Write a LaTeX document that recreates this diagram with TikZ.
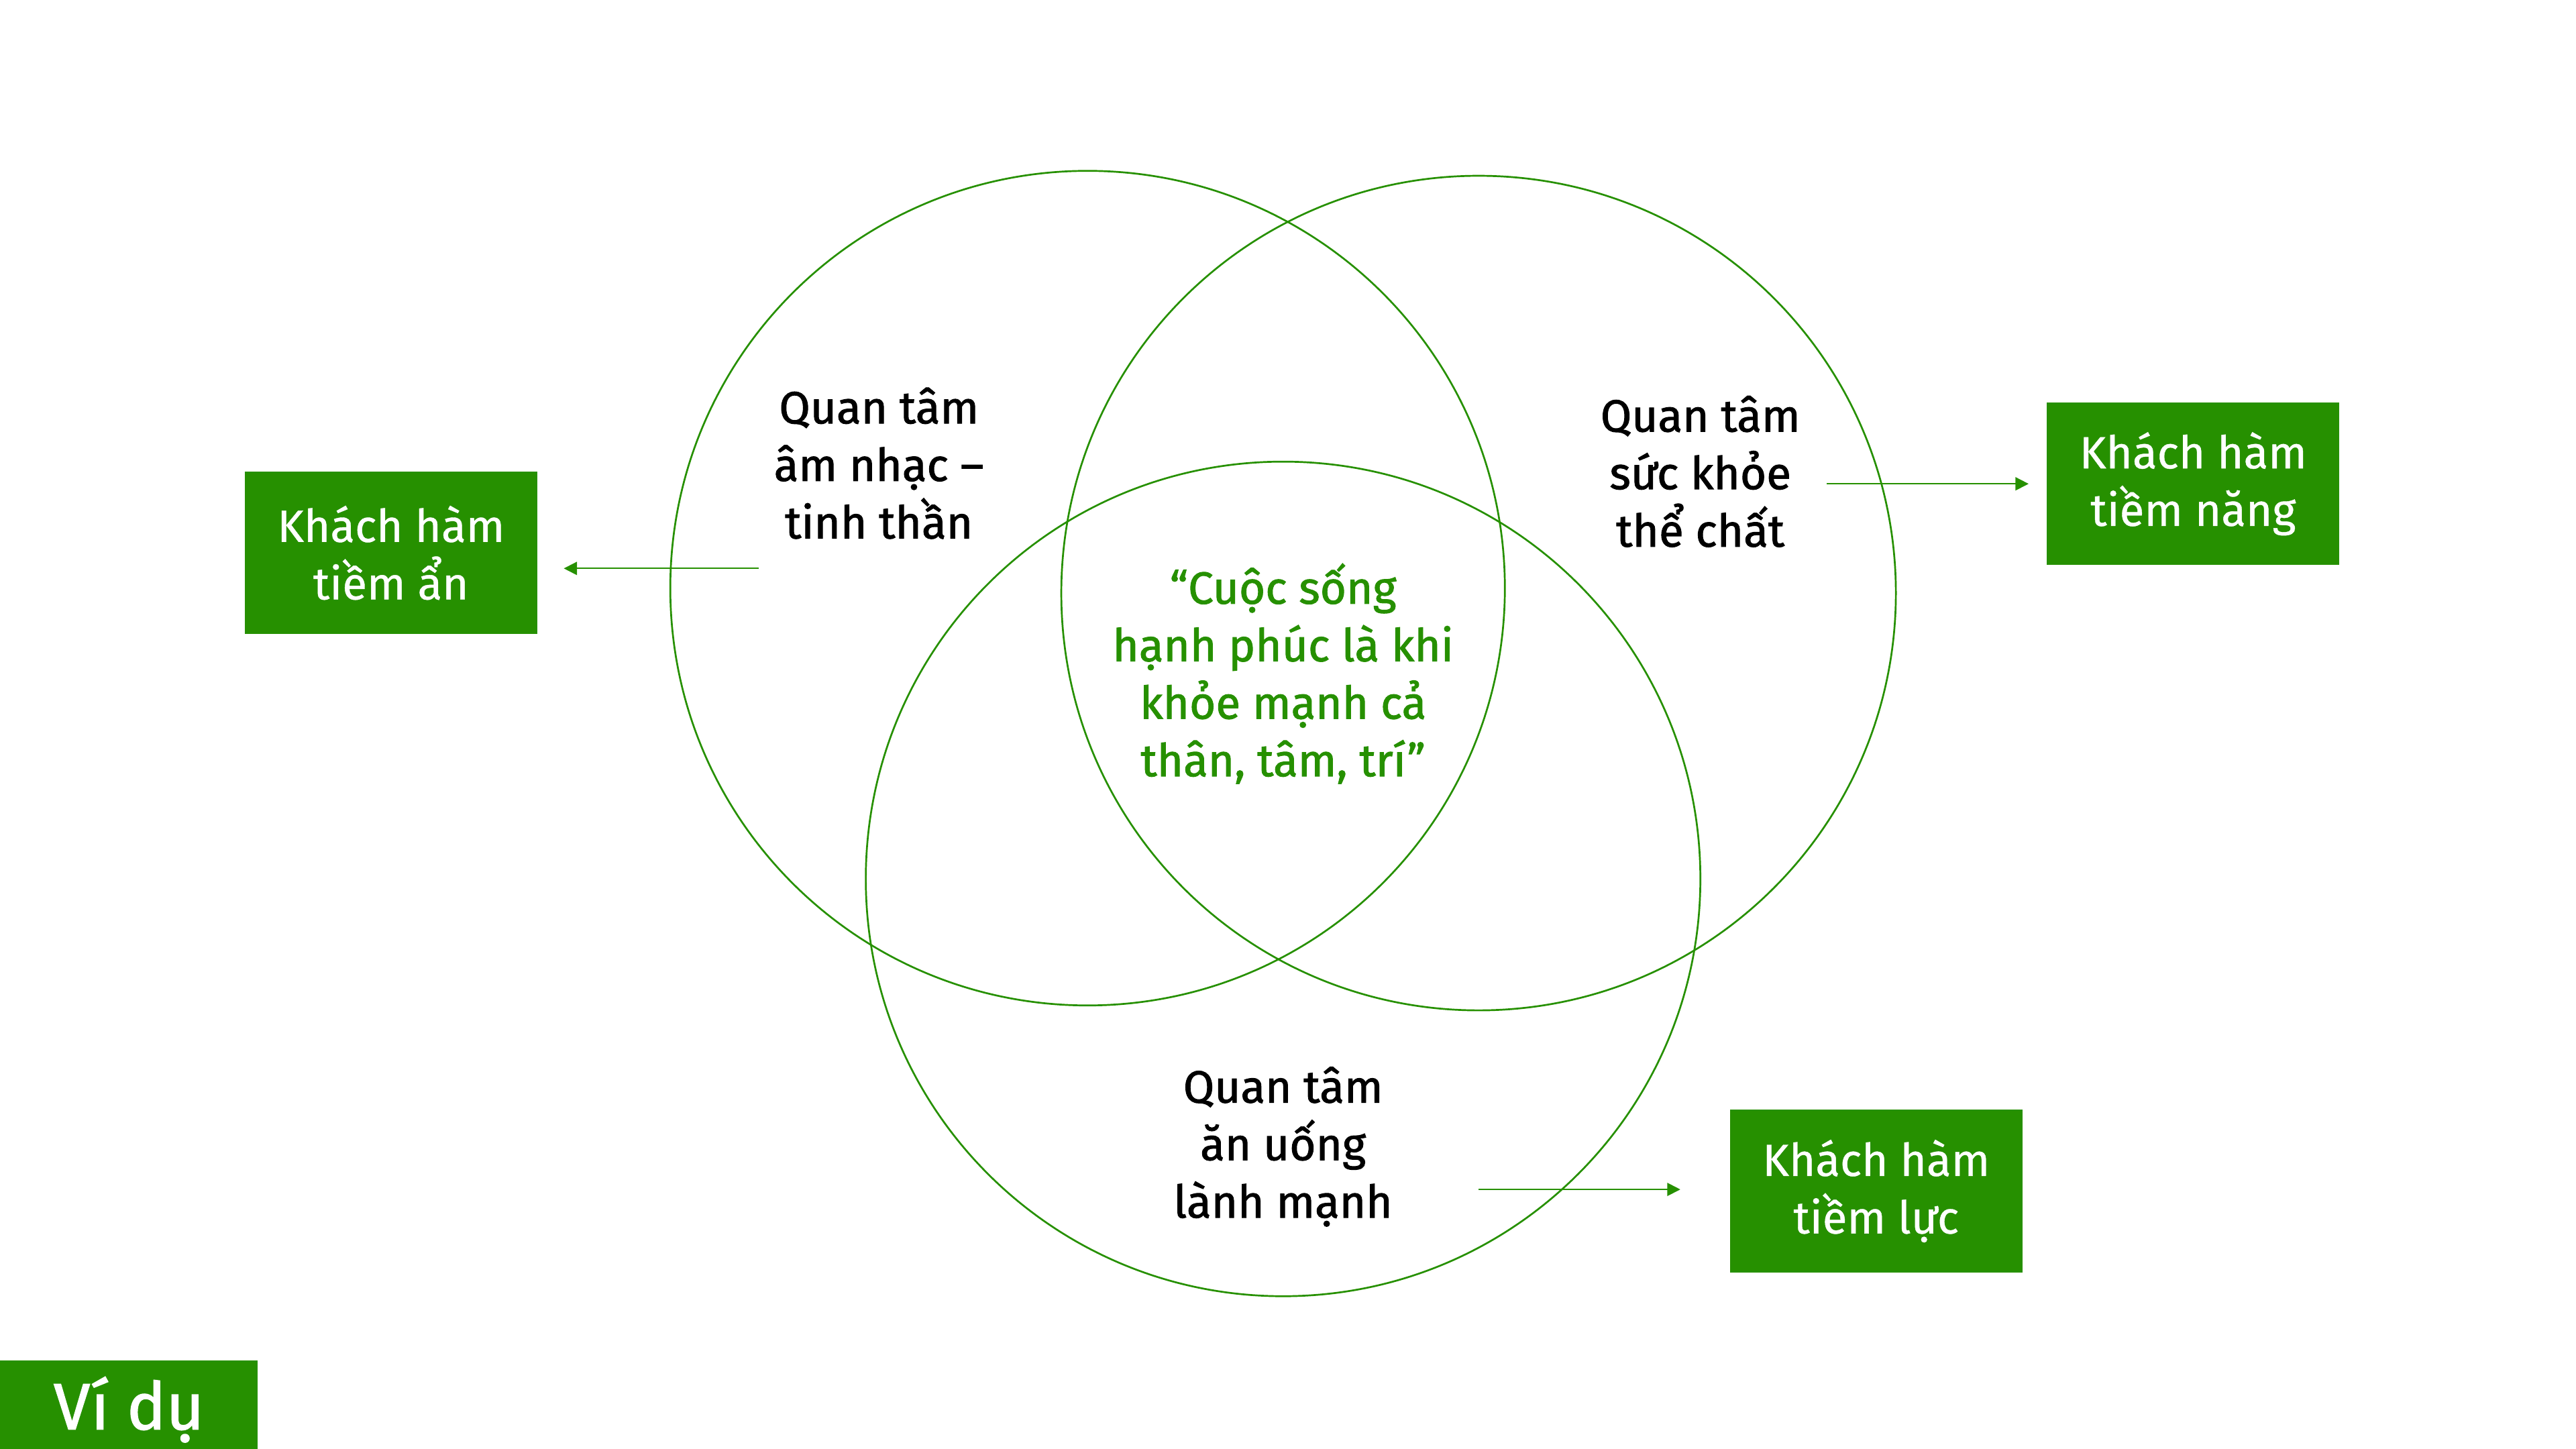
\documentclass[tikz,border=0pt]{standalone}
\usepackage{fontspec}
\setmainfont{Fira Sans}
\newfontfamily\medfont{Fira Sans}[FakeBold=1.4]
\newfontfamily\boxfont{Fira Sans}[FakeBold=0.6]
\usetikzlibrary{arrows.meta}
\definecolor{vgreen}{RGB}{38,144,0}
\begin{document}
\begin{tikzpicture}[x=1pt,y=-1pt,
  ring/.style={circle,draw=vgreen,line width=1.1pt,minimum size=508pt,inner sep=0pt},
  lbl/.style={align=center,text=black,font=\medfont\fontsize{27.5}{35}\selectfont},
  quote/.style={align=center,text=vgreen,font=\medfont\fontsize{27.5}{35}\selectfont},
  gbox/.style={fill=vgreen,text=white,align=center,minimum width=178pt,minimum height=99pt,inner sep=0pt,font=\boxfont\fontsize{27.5}{35}\selectfont},
  conn/.style={draw=vgreen,line width=0.8pt,-{Triangle[length=8pt,width=8pt]}}]
\useasboundingbox (0,0) rectangle (1568,882);
\node[ring] (cL) at (662,358) {};
\node[ring] (cR) at (900,361) {};
\node[ring] (cB) at (781,535) {};
\node[lbl] (tL) at (535,282) {Quan tâm\\âm nhạc –\\tinh thần};
\node[lbl] (tR) at (1035,287) {Quan tâm\\sức khỏe\\thể chất};
\node[lbl] (tB) at (781,698) {Quan tâm\\ăn uống\\lành mạnh};
\node[quote] (q) at (781,410) {“Cuộc sống\\hạnh phúc là khi\\khỏe mạnh cả\\thân, tâm, trí”};
\node[gbox] (bL) at (238,336.5) {Khách hàm\\tiềm ẩn};
\node[gbox] (bR) at (1335,294.5) {Khách hàm\\tiềm năng};
\node[gbox] (bB) at (1142,725) {Khách hàm\\tiềm lực};
\node[fill=vgreen,text=white,minimum width=157pt,minimum height=60pt,inner sep=0pt,font=\medfont\fontsize{40}{44}\selectfont] (vd) at (78.5,858) {Ví dụ};
\coordinate (sL) at (462,346);
\coordinate (sR) at (1112,294.5);
\coordinate (sB) at (900,724);
\draw[conn,shorten >=16pt] (sL) -- (sL -| bL.east);
\draw[conn,shorten >=11pt] (sR) -- (sR -| bR.west);
\draw[conn,shorten >=30pt] (sB) -- (sB -| bB.west);
\end{tikzpicture}
\end{document}
